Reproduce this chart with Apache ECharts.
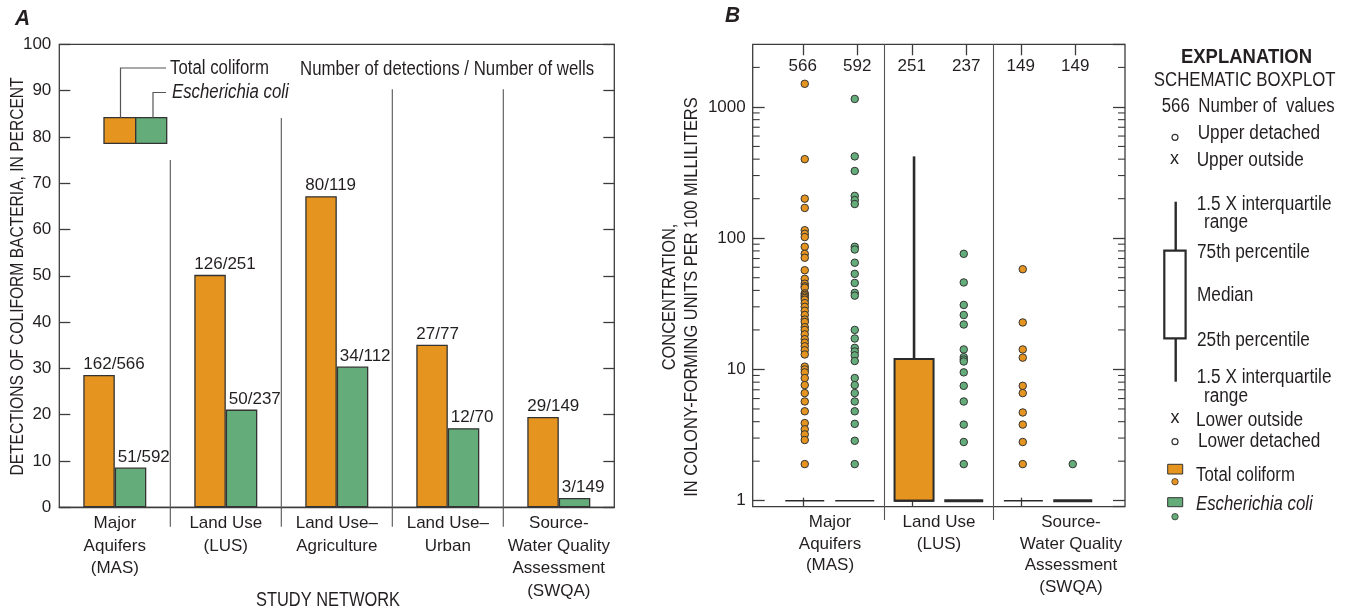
<!DOCTYPE html>
<html><head><meta charset="utf-8">
<script src="https://cdn.jsdelivr.net/npm/echarts@6/dist/echarts.min.js"></script>
<style>html,body{margin:0;padding:0;background:#fff;}#c{width:1345px;height:613px;}</style>
</head><body><div id="c"></div>
<script>
// ---------------- Panel A data ----------------
const networksA = ['Major\nAquifers\n(MAS)', 'Land Use\n(LUS)', 'Land Use–\nAgriculture', 'Land Use–\nUrban', 'Source-\nWater Quality\nAssessment\n(SWQA)'];
const tcPercent = [28.6, 50.2, 67.2, 35.1, 19.5];
const ecPercent = [8.6, 21.1, 30.4, 17.1, 2.0];
const tcDetections = [162, 126, 80, 27, 29];
const tcWells = [566, 251, 119, 77, 149];
const ecDetections = [51, 50, 34, 12, 3];
const ecWells = [592, 237, 112, 70, 149];

// ---------------- Panel B data ----------------
const boxCategories = ['MAS-TC', 'MAS-EC', 'LUS-TC', 'LUS-EC', 'SWQA-TC', 'SWQA-EC'];
const numberOfValues = ['566', '592', '251', '237', '149', '149'];
const networksB = ['Major\nAquifers\n(MAS)', 'Land Use\n(LUS)', 'Source-\nWater Quality\nAssessment\n(SWQA)'];
// lower whisker, 25th, median, 75th, upper whisker
const boxStats = [
  [1, 1, 1, 1, 1],
  [1, 1, 1, 1, 1],
  [1, 1, 1, 12, 420],
  [1, 1, 1, 1, 1],
  [1, 1, 1, 1, 1],
  [1, 1, 1, 1, 1]
];
const masTcPoints = [1500, 400, 200, 170, 115, 108, 102, 86, 76, 71, 57, 49, 45, 43, 42, 38, 37, 36, 35, 34, 32, 30, 28, 26, 24, 23, 21, 20, 18.5, 17, 16, 15, 14, 13, 10.5, 10, 9.5, 8.6, 7.6, 6.6, 5.7, 4.8, 3.9, 3.5, 3.2, 2.9, 1.9];
const masEcPoints = [1150, 420, 325, 210, 195, 182, 86, 82, 65, 53.5, 45.6, 38.3, 36.5, 20, 17.2, 14.6, 13.7, 12.8, 11.6, 8.6, 7.6, 6.6, 5.7, 4.8, 3.85, 2.86, 1.9];
const lusTcPoints = [];
const lusEcPoints = [76, 46, 31, 26, 22, 14.2, 12.4, 11.9, 11.5, 9.5, 7.5, 5.7, 3.8, 2.8, 1.9];
const swqaTcPoints = [58, 22.8, 14.2, 12.3, 7.5, 6.6, 4.7, 3.8, 2.8, 1.9];
const swqaEcPoints = [1.9];
const logMinorMultipliers = [2, 3, 4, 5, 6, 7, 8, 9];
const logDecades = [1, 10, 100, 1000];

// ---------------- styling ----------------
const FONT = "'Liberation Sans', Arial, sans-serif";
const SX = 0.84;           // horizontal condensing of annotation text
const AX = 17;             // axis / value label size
const ORANGE = '#E5951F', GREEN = '#64AD7A', INK = '#231F20', LINE = '#3C3C3C', SEP = '#555';
const BOX_W = 39;
const NUDGE = [2, -2.5, 2.3, -2.5, 2.6, -2.5];
const BOX_LW = [1.6, 1.6, 2, 3, 1.6, 3];
const GA = { left: 59.3, top: 44.3, width: 555, height: 463 };
const GB = { left: 752.7, top: 44.3, width: 372.3, height: 462.4 };
const GBI = { left: 775.5, top: 44.3, width: 327, height: 462.4 };

const chart = echarts.init(document.getElementById('c'));

const pointsByCat = [masTcPoints, masEcPoints, lusTcPoints, lusEcPoints, swqaTcPoints, swqaEcPoints];
const orangeData = [], greenData = [];
pointsByCat.forEach((arr, i) => arr.forEach(v => (i % 2 === 0 ? orangeData : greenData).push([i, v])));

const tickStyle = { color: LINE, width: 1.3 };
const logAxisBase = { type: 'log', logBase: 10, min: 0.9, max: 3000, splitLine: { show: false }, minorSplitLine: { show: false }, minorTick: { show: false } };

const option = {
  animation: false,
  textStyle: { fontFamily: FONT, color: INK },
  grid: [
    Object.assign({ show: true, borderColor: LINE, borderWidth: 1.3, backgroundColor: 'rgba(0,0,0,0)' }, GA),
    Object.assign({ show: true, borderColor: LINE, borderWidth: 1.3, backgroundColor: 'rgba(0,0,0,0)' }, GB),
    Object.assign({}, GBI)
  ],
  xAxis: [
    { gridIndex: 0, type: 'category', data: networksA,
      axisLine: { show: true, onZero: false, lineStyle: tickStyle }, axisTick: { show: false },
      axisLabel: { interval: 0, fontFamily: FONT, fontSize: AX, lineHeight: 22.5, margin: 5, color: INK } },
    { gridIndex: 1, type: 'value', min: 0, max: 1, show: false },
    { gridIndex: 2, type: 'category', data: boxCategories, position: 'bottom',
      axisLine: { show: false, onZero: false },
      axisTick: { show: true, inside: true, length: 9, alignWithLabel: true, lineStyle: tickStyle },
      axisLabel: { show: false } },
    { gridIndex: 2, type: 'category', data: numberOfValues, position: 'top',
      axisLine: { show: false, onZero: false },
      axisTick: { show: true, inside: true, length: 11, alignWithLabel: true, lineStyle: tickStyle },
      axisLabel: { inside: true, interval: 0, margin: 14, fontFamily: FONT, fontSize: AX, color: INK } },
    { gridIndex: 2, type: 'category', position: 'bottom',
      data: [networksB[0], networksB[1], { value: networksB[2], textStyle: { padding: [0, 0, 0, 46] } }],
      axisLine: { show: false, onZero: false }, axisTick: { show: false },
      axisLabel: { interval: 0, margin: 5, lineHeight: 21.5, fontFamily: FONT, fontSize: AX, color: INK } }
  ],
  yAxis: [
    { gridIndex: 0, type: 'value', min: 0, max: 100, interval: 10, splitLine: { show: false },
      axisLine: { show: false }, axisTick: { show: true, inside: true, length: 11, lineStyle: tickStyle },
      axisLabel: { fontFamily: FONT, fontSize: AX, margin: 8, color: INK } },
    { gridIndex: 0, type: 'value', position: 'right', min: 0, max: 100, interval: 10, splitLine: { show: false },
      axisLine: { show: false }, axisTick: { show: true, inside: true, length: 11, lineStyle: tickStyle },
      axisLabel: { show: false } },
    Object.assign({}, logAxisBase, { gridIndex: 1, position: 'left',
      axisLine: { show: false }, axisTick: { show: true, inside: true, length: 12, lineStyle: tickStyle },
      axisLabel: { showMinLabel: false, showMaxLabel: false, fontFamily: FONT, fontSize: AX, margin: 7, color: INK,
        formatter: v => String(Math.round(v)) } }),
    Object.assign({}, logAxisBase, { gridIndex: 1, position: 'right',
      axisLine: { show: false }, axisTick: { show: true, inside: true, length: 12, lineStyle: tickStyle },
      axisLabel: { show: false } }),
    Object.assign({}, logAxisBase, { gridIndex: 2, show: false })
  ],
  series: [
    { name: 'Total coliform', type: 'bar', xAxisIndex: 0, yAxisIndex: 0, data: tcPercent,
      barWidth: 31.5, barGap: '0%',
      itemStyle: { color: ORANGE, borderColor: '#333', borderWidth: 1.3 },
      label: { show: true, position: [0, -2], align: 'left', verticalAlign: 'bottom', fontFamily: FONT, fontSize: AX, color: INK,
        formatter: p => tcDetections[p.dataIndex] + '/' + tcWells[p.dataIndex] } },
    { name: 'Escherichia coli', type: 'bar', xAxisIndex: 0, yAxisIndex: 0, data: ecPercent,
      barWidth: 31.5, barGap: '0%',
      itemStyle: { color: GREEN, borderColor: '#333', borderWidth: 1.3 },
      label: { show: true, position: [3, -2], align: 'left', verticalAlign: 'bottom', fontFamily: FONT, fontSize: AX, color: INK,
        formatter: p => ecDetections[p.dataIndex] + '/' + ecWells[p.dataIndex] } },
    { name: 'boxes', type: 'custom', xAxisIndex: 2, yAxisIndex: 4, clip: false,
      data: boxStats.map((s, i) => [i].concat(s)),
      encode: { x: 0, y: [1, 2, 3, 4, 5] },
      renderItem: function (params, api) {
        const i = api.value(0);
        const cx = api.coord([i, 1])[0] + NUDGE[i];
        const yLow = api.coord([i, api.value(1)])[1];
        const yQ1 = api.coord([i, api.value(2)])[1];
        const yMed = api.coord([i, api.value(3)])[1];
        const yQ3 = api.coord([i, api.value(4)])[1];
        const yHigh = api.coord([i, api.value(5)])[1];
        const hw = BOX_W / 2;
        const ch = [];
        if (yHigh < yQ3 - 0.5) ch.push({ type: 'line', shape: { x1: cx, y1: yQ3, x2: cx, y2: yHigh }, style: { stroke: '#2a2a2a', lineWidth: 2.6 } });
        if (yLow > yQ1 + 0.5) ch.push({ type: 'line', shape: { x1: cx, y1: yQ1, x2: cx, y2: yLow }, style: { stroke: '#2a2a2a', lineWidth: 2.6 } });
        if (yQ1 - yQ3 > 0.5) ch.push({ type: 'rect', shape: { x: cx - hw, y: yQ3, width: 2 * hw, height: yQ1 - yQ3 },
          style: { fill: i % 2 === 0 ? ORANGE : GREEN, stroke: '#2a2a2a', lineWidth: 2 } });
        ch.push({ type: 'line', shape: { x1: cx - hw, y1: yMed, x2: cx + hw, y2: yMed }, style: { stroke: '#2a2a2a', lineWidth: BOX_LW[i] } });
        return { type: 'group', children: ch };
      } },
    { name: 'Total coliform points', type: 'scatter', xAxisIndex: 2, yAxisIndex: 4, data: orangeData,
      symbolSize: 7.5, symbolOffset: [2, 0], itemStyle: { color: ORANGE, borderColor: '#333', borderWidth: 1, opacity: 1 } },
    { name: 'E. coli points', type: 'scatter', xAxisIndex: 2, yAxisIndex: 4, data: greenData,
      symbolSize: 7.5, symbolOffset: [-2.5, 0], itemStyle: { color: GREEN, borderColor: '#333', borderWidth: 1, opacity: 1 } }
  ]
};
chart.setOption(option);

// ---------------- annotations ----------------
function txt(x, y, text, o) {
  o = o || {};
  return { type: 'text', x: x, y: y, z: 100, rotation: o.rotation || 0, scaleX: o.sx || SX, scaleY: 1,
    style: { text: text, fill: INK, fontFamily: FONT, fontSize: o.size || 20, fontWeight: o.weight || 'normal', fontStyle: o.style || 'normal',
      align: o.align || 'left', textAlign: o.align || 'left', verticalAlign: 'middle', textVerticalAlign: 'middle', lineHeight: o.lh || undefined } };
}
function ln(x1, y1, x2, y2, w, c) {
  return { type: 'line', z: 90, shape: { x1: x1, y1: y1, x2: x2, y2: y2 }, style: { stroke: c || SEP, lineWidth: w || 1 } };
}
const g = [];
// Panel A separators between networks
const SEP_TOPS_A = [75, 84.1, 90.3, 90.3];
for (let k = 0; k < 4; k++) {
  const xa = chart.convertToPixel({ xAxisIndex: 0 }, k), xb = chart.convertToPixel({ xAxisIndex: 0 }, k + 1);
  const x = (xa + xb) / 2;
  const yTop = chart.convertToPixel({ yAxisIndex: 0 }, SEP_TOPS_A[k]);
  g.push(ln(x, yTop, x, 526.7, 1.1));
}
// Panel B separators
[[1, 2], [3, 4]].forEach(([a, b]) => {
  const x = (chart.convertToPixel({ xAxisIndex: 2 }, a) + chart.convertToPixel({ xAxisIndex: 2 }, b)) / 2;
  g.push(ln(x, GB.top, x, 520, 1.1));
});
// Panel B minor log ticks (2..9 x 10^k), both frame sides, pointing inward
logDecades.forEach(d => logMinorMultipliers.forEach(m => {
  const v = d * m;
  if (v >= 3000) return;
  const y = chart.convertToPixel({ yAxisIndex: 2 }, v);
  g.push(ln(GB.left, y, GB.left + 7, y, 1.1, LINE));
  g.push(ln(GB.left + GB.width - 7, y, GB.left + GB.width, y, 1.1, LINE));
}));
// Panel A legend
g.push({ type: 'rect', z: 95, shape: { x: 104, y: 117.7, width: 31.7, height: 25.6 }, style: { fill: ORANGE, stroke: '#333', lineWidth: 1.3 } });
g.push({ type: 'rect', z: 95, shape: { x: 135.7, y: 117.7, width: 31, height: 25.6 }, style: { fill: GREEN, stroke: '#333', lineWidth: 1.3 } });
g.push({ type: 'polyline', z: 95, shape: { points: [[120.5, 117.7], [120.5, 68], [166, 68]] }, style: { stroke: SEP, lineWidth: 1.2, fill: null } });
g.push({ type: 'polyline', z: 95, shape: { points: [[153, 117.7], [153, 92.5], [166, 92.5]] }, style: { stroke: SEP, lineWidth: 1.2, fill: null } });
g.push(txt(170, 68, 'Total coliform'));
g.push(txt(172, 92.5, 'Escherichia coli', { style: 'italic' }));
g.push(txt(300, 69, 'Number of detections / Number of wells'));
// Titles and axis names
g.push(txt(22.5, 19, 'A', { size: 22, weight: 'bold', style: 'italic', align: 'center', sx: 0.95 }));
g.push(txt(732.5, 16, 'B', { size: 22, weight: 'bold', style: 'italic', align: 'center', sx: 0.95 }));
g.push(txt(328, 600, 'STUDY NETWORK', { align: 'center', sx: 0.82 }));
g.push(txt(17.5, 276.5, 'DETECTIONS OF COLIFORM BACTERIA, IN PERCENT', { size: 19, align: 'center', rotation: Math.PI / 2, sx: 0.82 }));
g.push(txt(681, 297, 'CONCENTRATION,\nIN COLONY-FORMING UNITS PER 100 MILLILITERS', { size: 19, align: 'center', rotation: Math.PI / 2, lh: 22, sx: 0.865 }));
// Explanation
g.push(txt(1246.5, 57.7, 'EXPLANATION', { size: 21, weight: 'bold', align: 'center', sx: 0.88 }));
g.push(txt(1244.7, 80.7, 'SCHEMATIC BOXPLOT', { align: 'center', sx: 0.84 }));
g.push(txt(1161.7, 106.7, '566'));
g.push(txt(1198.3, 106.7, 'Number of  values'));
g.push({ type: 'circle', z: 95, shape: { cx: 1175, cy: 137.3, r: 3 }, style: { fill: '#fff', stroke: '#333', lineWidth: 1.2 } });
g.push(txt(1197.7, 133.3, 'Upper detached', { sx: 0.86 }));
g.push(txt(1174.5, 159.5, 'x', { size: 18, align: 'center', sx: 1 }));
g.push(txt(1196.7, 160, 'Upper outside', { sx: 0.86 }));
g.push(ln(1175.7, 201.7, 1175.7, 250.7, 2.4, '#2a2a2a'));
g.push({ type: 'rect', z: 95, shape: { x: 1164.3, y: 250.7, width: 21.3, height: 87.6 }, style: { fill: '#fff', stroke: '#2a2a2a', lineWidth: 2.2 } });
g.push(ln(1164.3, 295.7, 1185.6, 295.7, 2.2, '#2a2a2a'));
g.push(ln(1175.7, 338.3, 1175.7, 381.7, 2.4, '#2a2a2a'));
g.push(txt(1196.7, 204, '1.5 X interquartile', { sx: 0.86 }));
g.push(txt(1204, 222, 'range', { sx: 0.86 }));
g.push(txt(1197, 252.7, '75th percentile', { sx: 0.86 }));
g.push(txt(1197, 295, 'Median', { sx: 0.86 }));
g.push(txt(1197, 340, '25th percentile', { sx: 0.86 }));
g.push(txt(1196.7, 377.5, '1.5 X interquartile', { sx: 0.86 }));
g.push(txt(1204, 396, 'range', { sx: 0.86 }));
g.push(txt(1175, 418.5, 'x', { size: 18, align: 'center', sx: 1 }));
g.push(txt(1196, 420, 'Lower outside', { sx: 0.86 }));
g.push({ type: 'circle', z: 95, shape: { cx: 1175, cy: 441.7, r: 3 }, style: { fill: '#fff', stroke: '#333', lineWidth: 1.2 } });
g.push(txt(1198, 441.7, 'Lower detached', { sx: 0.86 }));
g.push({ type: 'rect', z: 95, shape: { x: 1167.7, y: 464.3, width: 15, height: 9.7 }, style: { fill: ORANGE, stroke: '#333', lineWidth: 1 } });
g.push({ type: 'circle', z: 95, shape: { cx: 1175, cy: 481.7, r: 3.2 }, style: { fill: ORANGE, stroke: '#333', lineWidth: 0.8 } });
g.push(txt(1196, 475, 'Total coliform'));
g.push({ type: 'rect', z: 95, shape: { x: 1167.7, y: 497.7, width: 15, height: 9 }, style: { fill: GREEN, stroke: '#333', lineWidth: 1 } });
g.push({ type: 'circle', z: 95, shape: { cx: 1175, cy: 516.7, r: 3.2 }, style: { fill: GREEN, stroke: '#333', lineWidth: 0.8 } });
g.push(txt(1196, 504, 'Escherichia coli', { style: 'italic' }));

chart.setOption({ graphic: g });
</script>
</body></html>
